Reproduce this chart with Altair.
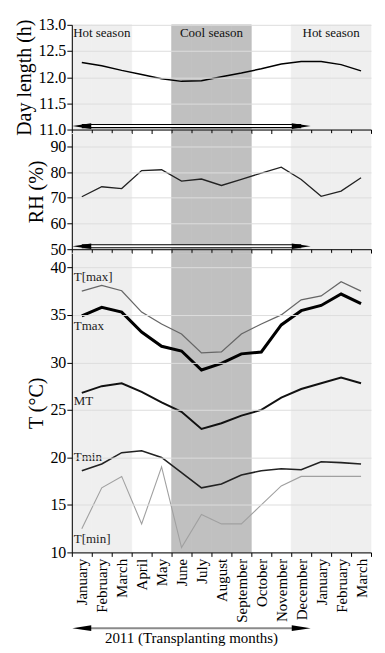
import altair as alt
import pandas as pd

# ---------------- data ----------------
months = ["January", "February", "March", "April", "May", "June", "July",
          "August", "September", "October", "November", "December",
          "January", "February", "March"]
years = [2011] * 12 + [2012] * 3
keys = [f"{m} {y}" for m, y in zip(months, years)]
season = ["hot", "hot", "hot", "none", "none", "cool", "cool", "cool", "cool",
          "none", "none", "hot", "hot", "hot", "hot"]

day_length = [12.28, 12.22, 12.13, 12.05, 11.97, 11.92, 11.93, 12.01, 12.08,
              12.16, 12.25, 12.30, 12.30, 12.24, 12.12]
rh = [70.4, 74.3, 73.6, 80.6, 80.9, 76.5, 77.3, 74.8, 77.2, 79.6, 81.9, 77.1,
      70.6, 72.6, 77.8]
t_max_abs = [37.5, 38.1, 37.55, 35.3, 34.05, 33.0, 31.0, 31.1, 33.0, 34.05,
             35.0, 36.6, 37.0, 38.5, 37.5]
t_max = [34.9, 35.8, 35.3, 33.2, 31.7, 31.2, 29.2, 29.9, 30.9, 31.1, 33.95,
         35.45, 36.0, 37.2, 36.2]
mean_t = [26.8, 27.5, 27.8, 26.9, 25.8, 24.8, 23.0, 23.6, 24.4, 25.0, 26.3,
          27.2, 27.8, 28.4, 27.8]
t_min = [18.6, 19.3, 20.5, 20.7, 20.0, 18.4, 16.8, 17.2, 18.15, 18.6, 18.8,
         18.7, 19.55, 19.45, 19.3]
t_min_abs = [12.5, 16.8, 18.0, 13.0, 19.0, 10.5, 14.0, 13.0, 13.0, 15.0, 17.0,
             18.0, 18.0, 18.0, 18.0]

season_label_text = ["Hot season", "Cool season", "Hot season"]
season_label_key = ["February 2011", "August 2011", "February 2012"]

series_names = ["T[max]", "Tmax", "MT", "Tmin", "T[min]"]
series_label_y = [39.0, 33.85, 25.9, 20.0, 11.45]

arrow_keys = ["January 2011", "December 2011"]
arrow_dirs = ["left", "right"]
bottom_title = "2011 (Transplanting months)"

# ---------------- frames ----------------
df = pd.DataFrame({
    "key": keys, "season": season, "day": day_length, "rh": rh,
    "tmaxabs": t_max_abs, "tmax": t_max, "mt": mean_t,
    "tmin": t_min, "tminabs": t_min_abs,
})
shade_df = df[df["season"] != "none"]
season_df = pd.DataFrame({"key": season_label_key, "text": season_label_text})
series_df = pd.DataFrame({"text": series_names, "y": series_label_y,
                          "key": [keys[0]] * len(series_names)})
arrow_df = pd.DataFrame({"key": arrow_keys, "dir": arrow_dirs})
title_df = pd.DataFrame({"key": ["July 2011"], "text": [bottom_title]})

FONT = "Liberation Serif"
W = 300
H1, H2, H3 = 105, 116, 300
TICK = 4

xscale = alt.Scale(domain=keys, paddingInner=0, paddingOuter=0)


def X(labels, band=None):
    ax = alt.Axis(title=None, tickBand="extent", tickSize=TICK, labels=labels,
                  labelExpr="split(datum.label, ' ')[0]", labelAngle=270,
                  labelAlign="right", labelBaseline="middle", labelFontSize=15,
                  labelPadding=2, labelOverlap=False, labelBound=False,
                  labelFont=FONT, labelColor="black",
                  domainColor="black", tickColor="black", zindex=1)
    if band is None:
        return alt.X("key:N", scale=xscale, sort=keys, axis=ax)
    return alt.X("key:N", scale=xscale, sort=keys, axis=ax, bandPosition=band)


def yaxis(title, values, fmt):
    return alt.Axis(title=title, values=values, format=fmt, tickSize=5,
                    labelPadding=1, titlePadding=3, labelFontSize=16,
                    titleFontSize=20, labelFlush=False, labelOverlap=False,
                    labelFont=FONT, titleFont=FONT, titleFontWeight="normal",
                    labelColor="black", titleColor="black",
                    domainColor="black", tickColor="black", zindex=1)


shade_scale = alt.Scale(domain=["hot", "cool"], range=["#efefef", "#c0c0c0"])
shade_color = alt.Color("season:N", scale=shade_scale, legend=None)
shade_stroke = alt.Stroke("season:N", scale=shade_scale, legend=None)

left_path = "M -1 0 L 1 -0.3 L 1 0.3 Z"
right_path = "M 1 0 L -1 -0.3 L -1 0.3 Z"
head_shape = alt.Shape("dir:N", scale=alt.Scale(domain=["left", "right"],
                                                range=[left_path, right_path]),
                       legend=None)


def shading(labels, h, extra):
    return alt.Chart(shade_df).mark_rect(strokeWidth=0.6).encode(
        x=X(labels), y=alt.value(0), y2=alt.value(h + extra),
        color=shade_color, stroke=shade_stroke)


def arrow(labels, ypix, shaft="double"):
    layers = []
    if shaft == "double":
        layers.append(alt.Chart(arrow_df).mark_line(color="black", strokeWidth=4.2)
                      .encode(x=X(labels), y=alt.value(ypix)))
        layers.append(alt.Chart(arrow_df).mark_line(color="white", strokeWidth=2)
                      .encode(x=X(labels), y=alt.value(ypix)))
    else:
        layers.append(alt.Chart(arrow_df).mark_line(color="#8a8a8a", strokeWidth=2)
                      .encode(x=X(labels), y=alt.value(ypix)))
    layers.append(alt.Chart(arrow_df).mark_point(filled=True, color="black",
                                                 opacity=1, strokeWidth=0)
                  .encode(x=X(labels), y=alt.value(ypix), shape=head_shape,
                          size=alt.value(361)))
    return layers


base = alt.Chart(df)

# ---------- top panel ----------
top_line = base.mark_line(color="black", strokeWidth=1.5).encode(
    x=X(False),
    y=alt.Y("day:Q", scale=alt.Scale(domain=[11, 13], nice=False, zero=False),
            axis=yaxis("Day length (h)", [11, 11.5, 12, 12.5, 13], ".1f")))
season_txt1 = alt.Chart(season_df.iloc[[0]]).mark_text(
    font=FONT, fontSize=13, baseline="top", color="#111").encode(
    x=X(False, 0.5), y=alt.value(2), text="text:N")
season_txt2 = alt.Chart(season_df.iloc[[1, 2]]).mark_text(
    font=FONT, fontSize=13, baseline="top", color="#111").encode(
    x=X(False, 0), y=alt.value(2), text="text:N")
top = alt.layer(shading(False, H1, TICK), top_line, *arrow(False, H1 - 3.5),
                season_txt1, season_txt2).properties(width=W, height=H1)

# ---------- middle panel ----------
mid_line = base.mark_line(color="#222", strokeWidth=1.3).encode(
    x=X(False),
    y=alt.Y("rh:Q", scale=alt.Scale(domain=[50, 95], nice=False, zero=False),
            axis=yaxis("RH (%)", [50, 60, 70, 80, 90], "d")))
mid = alt.layer(shading(False, H2, TICK), mid_line,
                *arrow(False, H2 - 3)).properties(width=W, height=H2)

# ---------- bottom panel ----------
tscale = alt.Scale(domain=[10, 41.5], nice=False, zero=False)
taxis = yaxis("T (°C)", [10, 15, 20, 25, 30, 35, 40], "d")


def tline(field, color, width):
    return base.mark_line(color=color, strokeWidth=width).encode(
        x=X(True), y=alt.Y(f"{field}:Q", scale=tscale, axis=taxis))


series_txt = alt.Chart(series_df).mark_text(
    font=FONT, fontSize=13, align="left", baseline="middle", dx=2, color="#222").encode(
    x=X(True, 0), y=alt.Y("y:Q", scale=tscale, axis=taxis), text="text:N")
title_txt = alt.Chart(title_df).mark_text(
    font=FONT, fontSize=15, baseline="middle", color="black").encode(
    x=X(True, 0), y=alt.value(H3 + 86), text="text:N")

bot = alt.layer(
    shading(True, H3, 0),
    tline("tminabs", "#a0a0a0", 1.1),
    tline("tmaxabs", "#666666", 1.3),
    tline("tmin", "#222222", 1.6),
    tline("mt", "#111111", 2.0),
    tline("tmax", "#000000", 3.0),
    series_txt,
    *arrow(True, H3 + 76, shaft="single"),
    title_txt,
).properties(width=W, height=H3)

chart = alt.vconcat(top, mid, bot, spacing=TICK, bounds="flush").properties(
    padding={"left": 6, "top": 8, "right": 5, "bottom": 2}
).configure_view(
    stroke=None
)

chart.save("out.html", embed_options={"renderer": "svg", "actions": False})
